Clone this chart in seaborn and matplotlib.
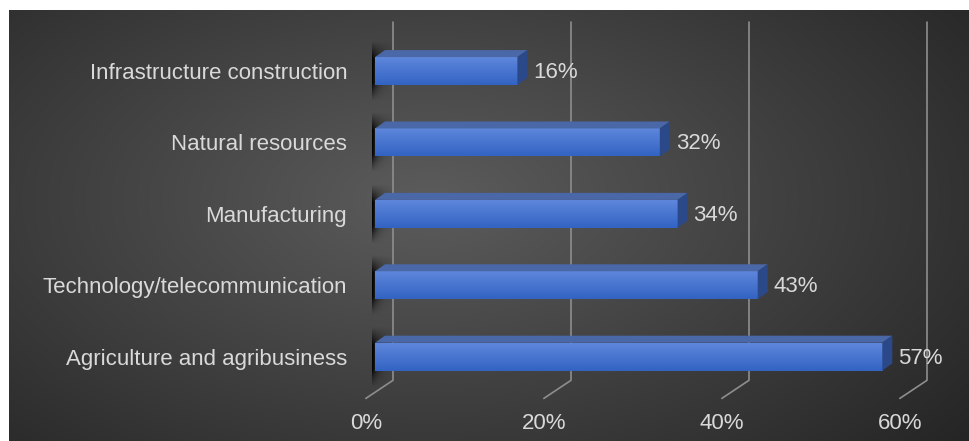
import numpy as np
import seaborn as sns
import matplotlib.pyplot as plt
from matplotlib import transforms
from matplotlib.patches import Polygon

categories = ["Infrastructure construction", "Natural resources", "Manufacturing",
              "Technology/telecommunication", "Agriculture and agribusiness"]
shares = [16, 32, 34, 43, 57]
tick_values = [0, 20, 40, 60]
tick_labels = ["0%", "20%", "40%", "60%"]

plt.rcParams["font.family"] = ["Liberation Sans", "DejaVu Sans"]
TXT = "#d9d9d9"
FS = 16

fig = plt.figure(figsize=(9.69, 4.41), dpi=100)
fig.patch.set_facecolor("white")

# dark radial background panel
bg = fig.add_axes([9 / 969, 0, 960 / 969, 431 / 441], zorder=-10)
gx, gy = np.meshgrid(np.arange(960), np.arange(431))
r = np.sqrt(((gx - 420) / 560) ** 2 + ((gy - 190) / 300) ** 2)
shade = np.clip(92 - 44 * r, 30, 95) / 255
bg.imshow(np.dstack([shade] * 3), aspect="auto", interpolation="bilinear")
bg.axis("off")

ax = fig.add_axes([375 / 969, 1 - 392.3 / 441, 551.8 / 969, 357 / 441])
ax.patch.set_alpha(0)
sns.barplot(x=shares, y=categories, orient="h", color="#4472c4", saturation=1,
            width=0.39, ax=ax, zorder=3)
ax.set_xlim(0, 62)
ax.set_ylim(4.5, -0.5)
for s in ax.spines.values():
    s.set_visible(False)


def shift(x, y, dxp, dyp):
    # move a data point by pixels (dyp > 0 means down on screen)
    px, py = ax.transData.transform((x, y))
    return ax.transData.inverted().transform((px + dxp, py - dyp))


# 3D gridlines: back wall verticals + floor diagonals
for v in tick_values:
    top = shift(v, -0.5, 18, -13)
    bend = shift(v, 4.5, 18, -12)
    front = shift(v, 4.5, -9, 6)
    ax.plot([top[0], bend[0], front[0]], [top[1], bend[1], front[1]],
            color="#8e8e8e", lw=1.2, clip_on=False, zorder=1)

DX, DY = 10, 7
for p, v in zip(ax.patches, shares):
    x0, x1 = p.get_x(), p.get_x() + p.get_width()
    ya, yb = p.get_y(), p.get_y() + p.get_height()
    ytop, ybot = min(ya, yb), max(ya, yb)
    p.set_edgecolor("none")

    # shadow on the left wall
    s0 = shift(x0, ytop, -3, -16)
    s1 = shift(x0, ybot, 17, 16)
    h, w = 80, 40
    yy, xx = np.mgrid[0:h, 0:w]
    frac = yy / (h - 1)
    xpx = xx * 0.5
    width = 11 - 7 * frac
    a = np.exp(-xpx / width)
    a *= np.clip(np.minimum(frac / 0.3, (1 - frac) / 0.3), 0, 1)
    rgba = np.zeros((h, w, 4))
    rgba[..., 3] = 1.0 * a
    ax.imshow(rgba, extent=(s0[0], s1[0], s1[1], s0[1]), aspect="auto",
              interpolation="bilinear", zorder=2, clip_on=False)

    # front face gradient
    t = np.linspace(0, 1, 40)[:, None]
    c1 = np.array([0x5e, 0x87, 0xdb]) / 255
    c2 = np.array([0x33, 0x63, 0xc3]) / 255
    grad = (c1 * (1 - t) + c2 * t)[:, None, :].repeat(2, axis=1)
    im = ax.imshow(grad, extent=(x0, x1, ybot, ytop), aspect="auto",
                   interpolation="bilinear", zorder=3)
    im.set_clip_path(p)

    tl = shift(x0, ytop, DX, -DY)
    tr = shift(x1, ytop, DX, -DY)
    br = shift(x1, ybot, DX, -DY)
    ax.add_patch(Polygon([(x0, ytop), (x1, ytop), tr, tl], closed=True,
                         facecolor="#4a67a7", edgecolor="none", zorder=4, clip_on=False))
    ax.add_patch(Polygon([(x1, ytop), tr, br, (x1, ybot)], closed=True,
                         facecolor="#2b4889", edgecolor="none", zorder=4, clip_on=False))

lab_tr = transforms.offset_copy(ax.transData, fig, x=16, y=-1.5, units="dots")
for i, v in enumerate(shares):
    ax.text(v, i, f"{v}%", transform=lab_tr, ha="left", va="center",
            fontsize=FS, color=TXT, zorder=5)

ax.set_xlim(0, 62)
ax.set_ylim(4.5, -0.5)
ax.set_xticks(tick_values)
ax.set_xticklabels(tick_labels)
ax.tick_params(axis="x", length=0, pad=15, labelsize=FS, labelcolor=TXT)
ax.tick_params(axis="y", length=0, pad=20, labelsize=FS, labelcolor=TXT)
for lbl in ax.get_xticklabels():
    lbl.set_transform(lbl.get_transform() + transforms.ScaledTranslation(-9 / 100, 0, fig.dpi_scale_trans))
ax.set_xlabel("")
ax.set_ylabel("")

fig.savefig("out.png", dpi=100)
